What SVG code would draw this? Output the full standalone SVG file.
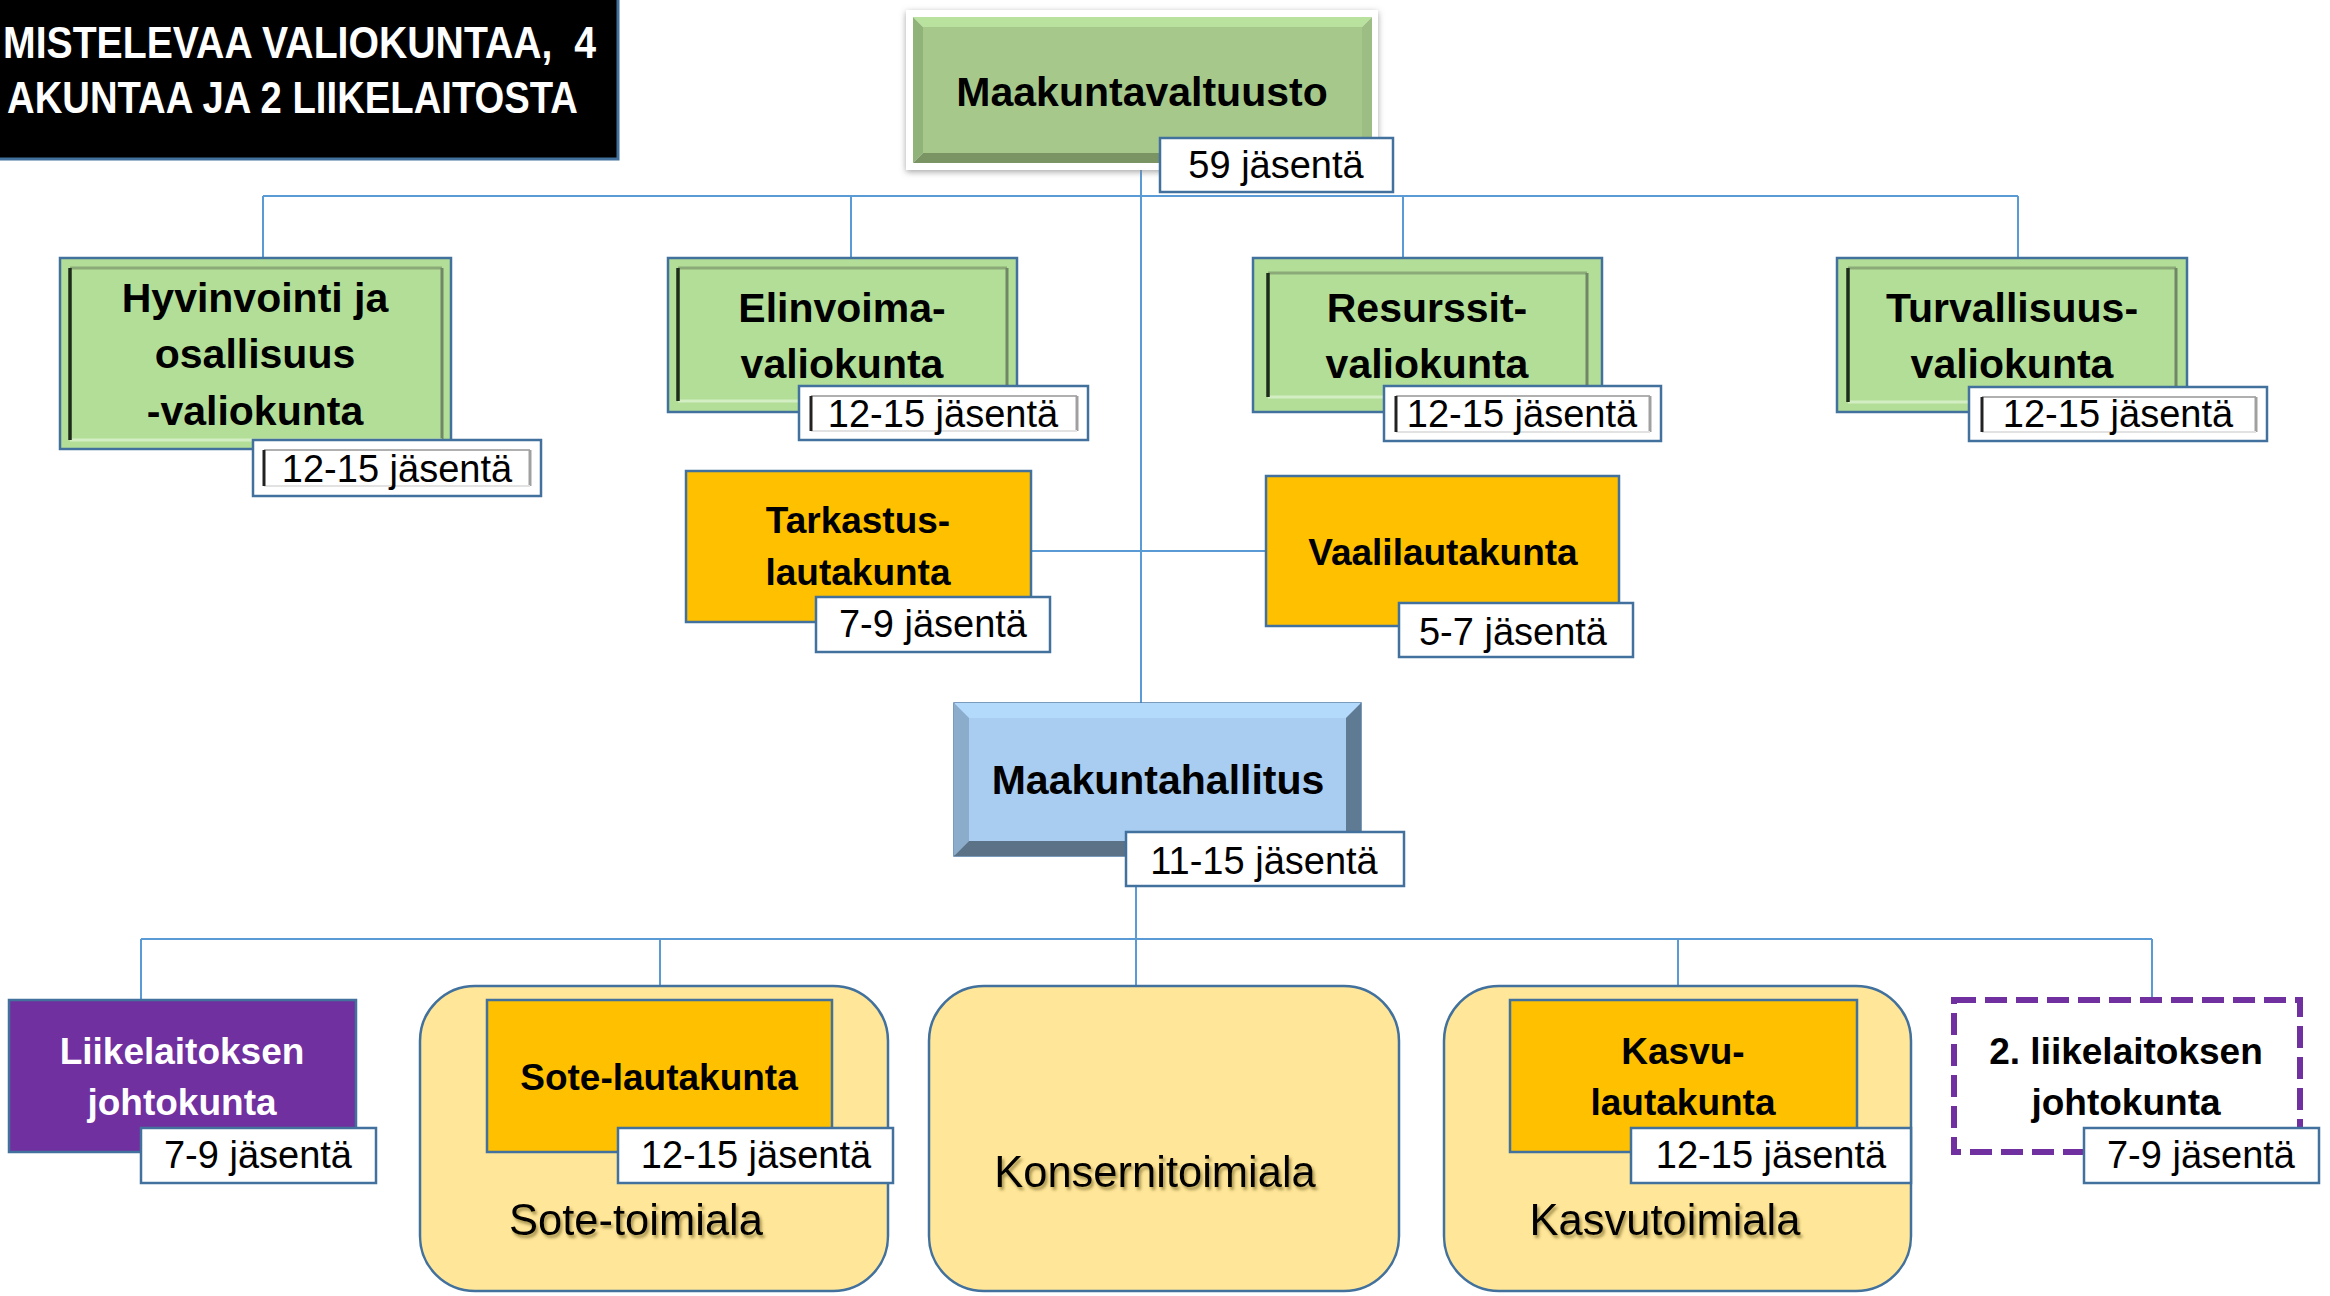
<svg xmlns="http://www.w3.org/2000/svg" width="2330" height="1296" viewBox="0 0 2330 1296">
<defs>
<style>
.conn{stroke:#5B9BD5;stroke-width:2;fill:none}
.lbl{fill:#FFFFFF;stroke:#41719C;stroke-width:2.5}
.lt{font-family:"Liberation Sans",Arial,sans-serif;font-size:38px;fill:#000;text-anchor:middle}
.bt{font-family:"Liberation Sans",Arial,sans-serif;font-weight:bold;font-size:41px;fill:#000;text-anchor:middle}
.ot{font-family:"Liberation Sans",Arial,sans-serif;font-weight:bold;font-size:37px;fill:#000;text-anchor:middle}
.tt{font-family:"Liberation Sans",Arial,sans-serif;font-size:43.5px;fill:#000;text-anchor:middle}
.green{fill:#B3DE98;stroke:#41719C;stroke-width:2.5}
.orange{fill:#FFC000;stroke:#41719C;stroke-width:2.5}
.beige{fill:#FFE699;stroke:#41719C;stroke-width:2.5}
.fT{stroke:#8CAA78;stroke-width:3}
.fL{stroke:#1E2A1A;stroke-width:3.5}
.fR{stroke:#6F8766;stroke-width:3}
.fB{stroke:#D3EEC3;stroke-width:3}
.gT{stroke:#B0B0B0;stroke-width:2}
.gL{stroke:#222;stroke-width:3}
.gR{stroke:#A0A0A0;stroke-width:3}
.gB{stroke:#E2E2E2;stroke-width:2}
</style>
<filter id="glow" x="-10%" y="-20%" width="120%" height="140%">
<feDropShadow dx="0" dy="2" stdDeviation="3" flood-color="#7F7F7F" flood-opacity="0.7"/>
</filter>
<filter id="tshadow" x="-10%" y="-30%" width="120%" height="160%">
<feDropShadow dx="2" dy="3" stdDeviation="1.8" flood-color="#6B5A1E" flood-opacity="0.6"/>
</filter>
</defs>
<rect width="2330" height="1296" fill="#FFFFFF"/>

<g id="connectors">
<line class="conn" x1="1141" y1="170" x2="1141" y2="703"/>
<line class="conn" x1="263" y1="196" x2="2018" y2="196"/>
<line class="conn" x1="263" y1="196" x2="263" y2="258"/>
<line class="conn" x1="851" y1="196" x2="851" y2="258"/>
<line class="conn" x1="1403" y1="196" x2="1403" y2="258"/>
<line class="conn" x1="2018" y1="196" x2="2018" y2="258"/>
<line class="conn" x1="1031" y1="551" x2="1266" y2="551"/>
<line class="conn" x1="1136" y1="856" x2="1136" y2="939"/>
<line class="conn" x1="141" y1="939" x2="2152" y2="939"/>
<line class="conn" x1="141" y1="939" x2="141" y2="1000"/>
<line class="conn" x1="660" y1="939" x2="660" y2="1000"/>
<line class="conn" x1="1136" y1="939" x2="1136" y2="986"/>
<line class="conn" x1="1678" y1="939" x2="1678" y2="1000"/>
<line class="conn" x1="2152" y1="939" x2="2152" y2="1000"/>
</g>

<g id="title">
<rect x="-10" y="-10" width="628" height="169" fill="#000000" stroke="#41719C" stroke-width="3"/>
<text x="3" y="58" font-family="Liberation Sans, Arial, sans-serif" font-weight="bold" font-size="44" fill="#FFFFFF" textLength="593" lengthAdjust="spacingAndGlyphs" xml:space="preserve">MISTELEVAA VALIOKUNTAA,  4</text>
<text x="7" y="113" font-family="Liberation Sans, Arial, sans-serif" font-weight="bold" font-size="44" fill="#FFFFFF" textLength="571" lengthAdjust="spacingAndGlyphs">AKUNTAA JA 2 LIIKELAITOSTA</text>
</g>

<g id="maakuntavaltuusto">
<rect x="906" y="10" width="472" height="160" fill="#FFFFFF" filter="url(#glow)"/>
<rect x="923" y="27" width="439" height="126" fill="#A6C98B"/>
<polygon points="913,17 1372,17 1362,27 923,27" fill="#B8E29D"/>
<polygon points="913,17 923,27 923,153 913,163" fill="#90B37A"/>
<polygon points="1372,17 1372,163 1362,153 1362,27" fill="#9CBD84"/>
<polygon points="913,163 1372,163 1362,153 923,153" fill="#7A9464"/>
<text class="bt" x="1142" y="106" font-size="42">Maakuntavaltuusto</text>
<rect class="lbl" x="1160" y="138" width="233" height="54"/>
<text class="lt" x="1276" y="178">59 jäsentä</text>
</g>

<g id="hyvinvointi">
<rect class="green" x="60" y="258" width="391" height="191"/>
<line class="fT" x1="70" y1="268" x2="442" y2="268"/>
<line class="fR" x1="442" y1="268" x2="442" y2="440"/>
<line class="fB" x1="70" y1="440" x2="442" y2="440"/>
<line class="fL" x1="70" y1="268" x2="70" y2="440"/>
<text class="bt" x="255" y="312">Hyvinvointi ja</text>
<text class="bt" x="255" y="368">osallisuus</text>
<text class="bt" x="255" y="425">-valiokunta</text>
<rect class="lbl" x="253" y="440" width="288" height="56"/>
<line class="gT" x1="264" y1="450" x2="530" y2="450"/>
<line class="gR" x1="530" y1="450" x2="530" y2="486"/>
<line class="gB" x1="264" y1="486" x2="530" y2="486"/>
<line class="gL" x1="264" y1="450" x2="264" y2="486"/>
<text class="lt" x="397" y="482">12-15 jäsentä</text>
</g>

<g id="elinvoima">
<rect class="green" x="668" y="258" width="349" height="154"/>
<line class="fT" x1="678" y1="268" x2="1007" y2="268"/>
<line class="fR" x1="1007" y1="268" x2="1007" y2="401"/>
<line class="fB" x1="678" y1="401" x2="1007" y2="401"/>
<line class="fL" x1="678" y1="268" x2="678" y2="401"/>
<text class="bt" x="842" y="322">Elinvoima-</text>
<text class="bt" x="842" y="378">valiokunta</text>
<rect class="lbl" x="799" y="386" width="289" height="54"/>
<line class="gT" x1="811" y1="396" x2="1077" y2="396"/>
<line class="gR" x1="1077" y1="396" x2="1077" y2="431"/>
<line class="gB" x1="811" y1="431" x2="1077" y2="431"/>
<line class="gL" x1="811" y1="396" x2="811" y2="431"/>
<text class="lt" x="943" y="427">12-15 jäsentä</text>
</g>

<g id="resurssit">
<rect class="green" x="1253" y="258" width="349" height="154"/>
<line class="fT" x1="1268" y1="273" x2="1587" y2="273"/>
<line class="fR" x1="1587" y1="273" x2="1587" y2="397"/>
<line class="fB" x1="1268" y1="397" x2="1587" y2="397"/>
<line class="fL" x1="1268" y1="273" x2="1268" y2="397"/>
<text class="bt" x="1427" y="322">Resurssit-</text>
<text class="bt" x="1427" y="378">valiokunta</text>
<rect class="lbl" x="1384" y="386" width="277" height="55"/>
<line class="gT" x1="1396" y1="396" x2="1650" y2="396"/>
<line class="gR" x1="1650" y1="396" x2="1650" y2="432"/>
<line class="gB" x1="1396" y1="432" x2="1650" y2="432"/>
<line class="gL" x1="1396" y1="396" x2="1396" y2="432"/>
<text class="lt" x="1522" y="427">12-15 jäsentä</text>
</g>

<g id="turvallisuus">
<rect class="green" x="1837" y="258" width="350" height="154"/>
<line class="fT" x1="1848" y1="268" x2="2176" y2="268"/>
<line class="fR" x1="2176" y1="268" x2="2176" y2="402"/>
<line class="fB" x1="1848" y1="402" x2="2176" y2="402"/>
<line class="fL" x1="1848" y1="268" x2="1848" y2="402"/>
<text class="bt" x="2012" y="322">Turvallisuus-</text>
<text class="bt" x="2012" y="378">valiokunta</text>
<rect class="lbl" x="1969" y="387" width="298" height="54"/>
<line class="gT" x1="1982" y1="397" x2="2256" y2="397"/>
<line class="gR" x1="2256" y1="397" x2="2256" y2="432"/>
<line class="gB" x1="1982" y1="432" x2="2256" y2="432"/>
<line class="gL" x1="1982" y1="397" x2="1982" y2="432"/>
<text class="lt" x="2118" y="427">12-15 jäsentä</text>
</g>

<g id="tarkastuslautakunta">
<rect class="orange" x="686" y="471" width="345" height="151"/>
<text class="ot" x="858" y="533">Tarkastus-</text>
<text class="ot" x="858" y="585">lautakunta</text>
<rect class="lbl" x="816" y="597" width="234" height="55"/>
<text class="lt" x="933" y="637">7-9 jäsentä</text>
</g>

<g id="vaalilautakunta">
<rect class="orange" x="1266" y="476" width="353" height="150"/>
<text class="ot" x="1443" y="565">Vaalilautakunta</text>
<rect class="lbl" x="1399" y="603" width="234" height="54"/>
<text class="lt" x="1513" y="645">5-7 jäsentä</text>
</g>

<g id="maakuntahallitus">
<rect x="954" y="703" width="407" height="153" fill="#A8CDF0" stroke="#4F7BA5" stroke-width="1.5"/>
<polygon points="954,703 1361,703 1346,718 969,718" fill="#B3D9FB"/>
<polygon points="954,703 969,718 969,841 954,856" fill="#8CACCB"/>
<polygon points="1361,703 1361,856 1346,841 1346,718" fill="#5F7A93"/>
<polygon points="954,856 1361,856 1346,841 969,841" fill="#5C7287"/>
<text class="bt" x="1158" y="794" font-size="42">Maakuntahallitus</text>
<rect class="lbl" x="1126" y="832" width="278" height="54"/>
<text class="lt" x="1264" y="874">11-15 jäsentä</text>
</g>

<g id="liikelaitoksen-johtokunta">
<rect x="9" y="1000" width="347" height="152" fill="#7030A0" stroke="#41719C" stroke-width="2.5"/>
<text class="ot" x="182" y="1064" style="fill:#FFFFFF">Liikelaitoksen</text>
<text class="ot" x="182" y="1115" style="fill:#FFFFFF">johtokunta</text>
<rect class="lbl" x="141" y="1128" width="235" height="55"/>
<text class="lt" x="258" y="1168">7-9 jäsentä</text>
</g>

<g id="sote-toimiala">
<rect class="beige" x="420" y="986" width="468" height="305" rx="55" ry="55"/>
<text class="tt" x="636" y="1235" filter="url(#tshadow)">Sote-toimiala</text>
</g>

<g id="sote-lautakunta">
<rect class="orange" x="487" y="1000" width="345" height="152"/>
<text class="ot" x="659" y="1090">Sote-lautakunta</text>
<rect class="lbl" x="618" y="1128" width="275" height="55"/>
<text class="lt" x="756" y="1168">12-15 jäsentä</text>
</g>

<g id="konsernitoimiala">
<rect class="beige" x="929" y="986" width="470" height="305" rx="55" ry="55"/>
<text class="tt" x="1155" y="1187" filter="url(#tshadow)">Konsernitoimiala</text>
</g>

<g id="kasvutoimiala">
<rect class="beige" x="1444" y="986" width="467" height="305" rx="55" ry="55"/>
<text class="tt" x="1665" y="1235" filter="url(#tshadow)">Kasvutoimiala</text>
</g>

<g id="kasvulautakunta">
<rect class="orange" x="1510" y="1000" width="347" height="152"/>
<text class="ot" x="1683" y="1064">Kasvu-</text>
<text class="ot" x="1683" y="1115">lautakunta</text>
<rect class="lbl" x="1631" y="1128" width="280" height="55"/>
<text class="lt" x="1771" y="1168">12-15 jäsentä</text>
</g>

<g id="liikelaitoksen-johtokunta-2">
<rect x="1954" y="1000" width="346" height="152" fill="none" stroke="#7030A0" stroke-width="6" stroke-dasharray="22 9"/>
<text class="ot" x="2126" y="1064">2. liikelaitoksen</text>
<text class="ot" x="2126" y="1115">johtokunta</text>
<rect class="lbl" x="2084" y="1128" width="235" height="55"/>
<text class="lt" x="2201" y="1168">7-9 jäsentä</text>
</g>
</svg>
